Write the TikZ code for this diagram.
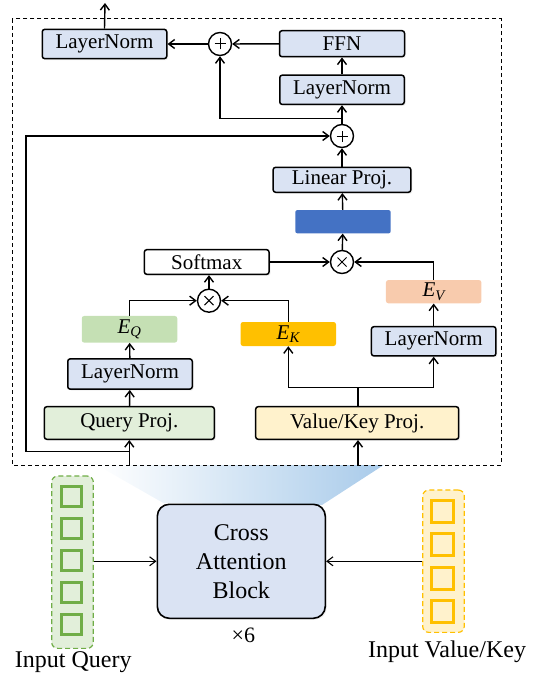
\documentclass[tikz,border=0pt]{standalone}
\usepackage{fontspec}
\setmainfont{Liberation Serif}
\usetikzlibrary{arrows.meta,shadows}

\definecolor{normblue}{HTML}{DAE3F3}
\definecolor{querygreen}{HTML}{E2EFDA}
\definecolor{keyyellow}{HTML}{FFF2CC}
\definecolor{attnblue}{HTML}{4472C4}
\definecolor{eqgreen}{HTML}{C5E0B4}
\definecolor{ekgold}{HTML}{FFC000}
\definecolor{evpeach}{HTML}{F8CBAD}
\definecolor{cellgreen}{HTML}{70AD47}
\definecolor{fanblue}{HTML}{A9CBEA}

\tikzset{
  arr/.style={line width=1.4pt,-{Straight Barb[length=6pt,width=9pt]}},
  wire/.style={line width=1.4pt},
  blockbox/.style={draw,line width=1.5pt,rounded corners=2.5pt,inner sep=0pt,
    font=\fontsize{21}{24}\selectfont,
    drop shadow={opacity=0.12,shadow xshift=1.5pt,shadow yshift=-1.5pt}},
  normbox/.style={blockbox,fill=normblue,minimum width=124.5pt,minimum height=29.3pt},
  embbox/.style={rounded corners=2.5pt,inner sep=0pt,minimum width=95.5pt,
    font=\fontsize{21}{24}\selectfont},
  opcirc/.style={circle,draw,line width=1.4pt,fill=white,minimum size=23pt,inner sep=0pt},
  addop/.style={opcirc,path picture={
      \draw[line width=1pt] ([xshift=-5.5pt]path picture bounding box.center) -- ([xshift=5.5pt]path picture bounding box.center);
      \draw[line width=1pt] ([yshift=-5.5pt]path picture bounding box.center) -- ([yshift=5.5pt]path picture bounding box.center);}},
  mulop/.style={opcirc,path picture={
      \draw[line width=1pt] ([shift={(-4.5pt,-4.5pt)}]path picture bounding box.center) -- ([shift={(4.5pt,4.5pt)}]path picture bounding box.center);
      \draw[line width=1pt] ([shift={(-4.5pt,4.5pt)}]path picture bounding box.center) -- ([shift={(4.5pt,-4.5pt)}]path picture bounding box.center);}},
  qcell/.style={draw=cellgreen,fill=querygreen,line width=3pt,minimum size=20pt,inner sep=0pt},
  vcell/.style={draw=ekgold,fill=keyyellow,line width=3pt,minimum size=22pt,inner sep=0pt},
  label/.style={font=\fontsize{24}{28}\selectfont}
}

\begin{document}
\begin{tikzpicture}[x=1pt,y=-1pt]

  \useasboundingbox (0,0) rectangle (543,677);

  % fan from the block up to the expanded view
  \shade[left color=white,right color=fanblue] (96.7,465) -- (383.7,465) -- (322,505) -- (163.3,503) -- cycle;
  \draw[dashed,line width=1pt,dash pattern=on 4pt off 3pt] (12.3,19) rectangle (501.3,465);

  % upper half: FFN part
  \node[normbox] (ln_out) at (104.5,44) {LayerNorm};
  \node[addop] (add_out) at (220,44) {};
  \node[normbox,minimum width=125pt,minimum height=26pt] (ffn) at (342,43.7) {FFN};
  \node[normbox] (ln_ffn) at (342,89.8) {LayerNorm};
  \node[addop] (add_mid) at (342,136) {};
  \node[normbox,minimum width=137.7pt,minimum height=25pt] (lin) at (342,179.8) {Linear Proj.};
  \node[rounded corners=2pt,fill=attnblue,minimum width=95.3pt,minimum height=23.3pt] (attn) at (343,221.7) {};

  % attention part
  \node[mulop] (mul_v) at (342,262) {};
  \node[blockbox,fill=white,minimum width=124.7pt,minimum height=24.7pt] (softmax) at (206.7,262) {Softmax};
  \node[mulop] (mul_qk) at (209,300.7) {};
  \node[embbox,fill=eqgreen,minimum height=26.7pt] (eq) at (129.5,329.3) {{\itshape E}\textsubscript{\itshape Q}};
  \node[embbox,fill=ekgold,minimum height=24pt] (ek) at (288.3,334) {{\itshape E}\textsubscript{\itshape K}};
  \node[embbox,fill=evpeach,minimum height=23.3pt] (ev) at (433.7,291.7) {{\itshape E}\textsubscript{\itshape V}};
  \node[normbox,minimum height=30.3pt] (ln_q) at (130,374) {LayerNorm};
  \node[normbox] (ln_v) at (433.7,341.3) {LayerNorm};
  \node[blockbox,fill=querygreen,minimum width=170pt,minimum height=32.6pt] (qproj) at (129.3,423) {Query Proj.};
  \node[blockbox,fill=keyyellow,minimum width=203pt,minimum height=32.6pt] (vkproj) at (357.2,423) {Value/Key Proj.};

  \path (105,3) coordinate (out) (220,118.7) coordinate (res)
        (358,387.3) coordinate (split) (129.3,465) coordinate (qin)
        (358,465) coordinate (vin) (129.3,451.7) coordinate (qtap)
        (26,136) coordinate (loop);

  \draw[arr] (ln_out.north) -- (out);
  \draw[arr] (add_out) -- (ln_out);
  \draw[arr] (ffn) -- (add_out);
  \draw[arr] (ln_ffn) -- (ffn);
  \draw[arr] (add_mid) -- (ln_ffn);
  \draw[arr] (add_mid.north) |- (res) -- (add_out.south);
  \draw[arr] (lin) -- (add_mid);
  \draw[arr] (attn) -- (lin);
  \draw[arr] (mul_v) -- (attn);
  \draw[arr] (softmax) -- (mul_v);
  \draw[arr] (ev.north) |- (mul_v.east);
  \draw[arr] (mul_qk.north) -- (mul_qk.north |- softmax.south);
  \draw[arr] (eq.north) |- (mul_qk.west);
  \draw[arr] (ek.north) |- (mul_qk.east);
  \draw[arr] (ln_q) -- (eq);
  \draw[arr] (qproj) -- (ln_q);
  \draw[arr] (ln_v) -- (ev);
  \draw[wire] (vkproj.north -| split) -- (split);
  \draw[arr] (split) -| (ek.south);
  \draw[arr] (split) -| (ln_v.south);
  \draw[arr] (qin) -- (qproj.south);
  \draw[arr] (vin) -- (vkproj.south -| vin);
  \draw[arr] (qtap) -| (loop) -- (add_mid.west);

  % lower half: inputs and the block
  \node[draw=cellgreen,fill=querygreen,dashed,line width=1.2pt,dash pattern=on 5pt off 3pt,rounded corners=6pt,minimum width=41.6pt,minimum height=172.3pt] (qcol) at (72.5,562.2) {};
  \foreach \i in {0,...,4}
    \node[qcell] (q\i) at (71.7,{496.6+32*\i}) {};
  \node[draw=ekgold,fill=keyyellow,dashed,line width=1.2pt,dash pattern=on 5pt off 3pt,rounded corners=6pt,minimum width=41.6pt,minimum height=142.3pt] (vcol) at (443.5,561.2) {};
  \foreach \i in {0,...,3}
    \node[vcell] (v\i) at (442.8,{511.6+33.2*\i}) {};

  \node[draw,fill=normblue,line width=1.6pt,rounded corners=12pt,minimum width=168pt,minimum height=114pt,align=center,font=\fontsize{24}{29}\selectfont,
        drop shadow={opacity=0.12,shadow xshift=1.5pt,shadow yshift=-1.5pt}] (cab) at (241.3,561.3) {Cross\\Attention\\Block};
  \node[font=\fontsize{22}{26}\selectfont] (rep) at (243.3,635) {×6};
  \node[label] (qlabel) at (73.3,662) {Input Query};
  \node[label] (vlabel) at (447,652) {Input Value/Key};

  \draw[arr,line width=1.1pt] (qcol.east |- cab.west) -- (cab.west);
  \draw[arr,line width=1.1pt] (vcol.west |- cab.east) -- (cab.east);

\end{tikzpicture}
\end{document}
